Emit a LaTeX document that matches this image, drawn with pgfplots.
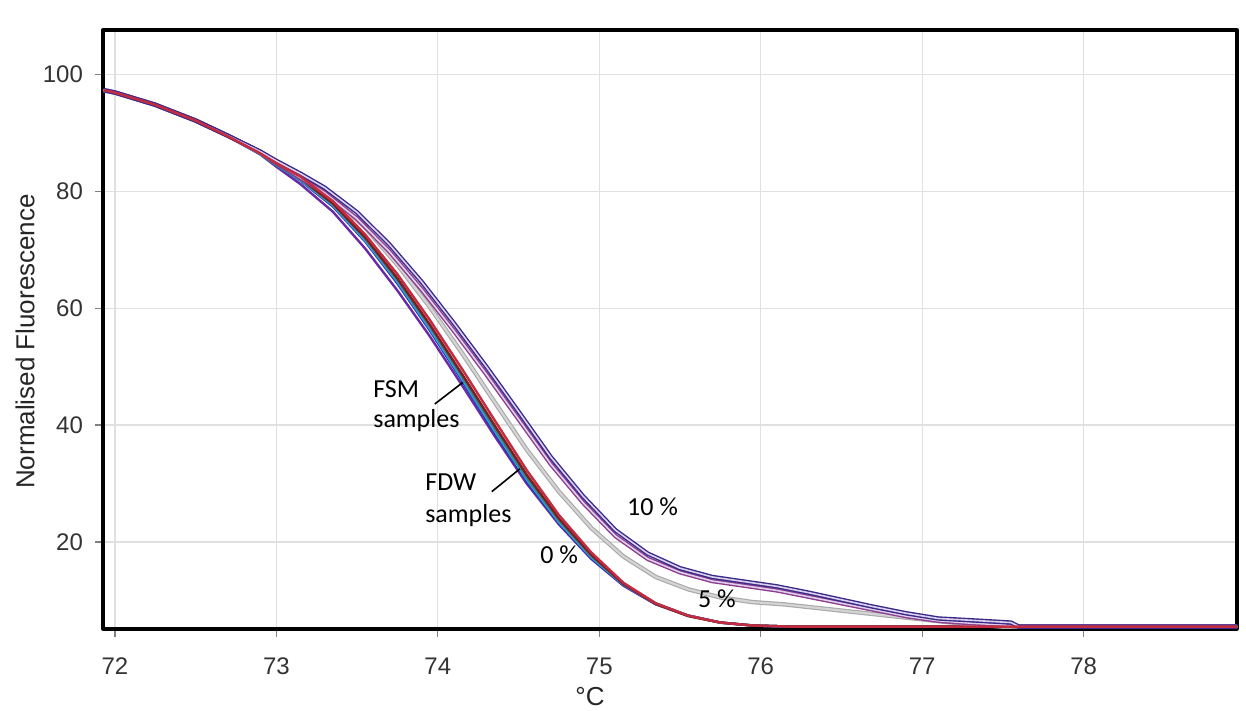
\documentclass[border=0pt]{standalone}
\usepackage{pgfplots}
\usepackage{pgfplotstable}
\pgfplotsset{compat=1.18}
\usepackage{fontspec}
\setmainfont{Liberation Sans}
\newfontfamily\carlito{Carlito}
\definecolor{fdwblue}{HTML}{2434B8}
\definecolor{fdwpurple}{HTML}{6A2AA8}
\definecolor{fdwteal}{HTML}{2A8A8A}
\definecolor{fdwcyan}{HTML}{3C9ED8}
\definecolor{fdwgreen}{HTML}{3A9A5A}
\definecolor{fsmred}{HTML}{C42A40}
\definecolor{fsmbrown}{HTML}{7A1E1E}
\definecolor{gray5}{HTML}{D4D4D4}
\definecolor{gray5edge}{HTML}{A8A8A8}
\definecolor{navy10}{HTML}{3A2A88}
\definecolor{purp10}{HTML}{8E3C8E}
\definecolor{lav10}{HTML}{DCD0EC}
\pgfplotstableread{
x y
71.93 97.3
72.0 96.9
72.25 94.8
72.5 92.1
72.7 89.5
72.9 86.7
73.0 85.0
73.15 82.8
73.35 78.9
73.55 73.8
73.75 67.4
73.95 60.2
74.15 52.3
74.35 44.0
74.55 35.8
74.75 28.6
74.95 22.4
75.15 17.5
75.35 14.0
75.55 11.9
75.75 10.5
75.95 9.7
76.15 9.3
76.35 8.7
76.55 8.1
76.75 7.5
76.95 6.9
77.15 6.3
77.35 5.8
77.5 5.5
78.95 5.5
}\fivepct
\pgfplotstableread{
x y
71.93 97.3
72.0 96.9
72.25 94.8
72.5 92.1
72.7 89.5
72.9 86.7
73.0 84.9
73.15 82.3
73.3 79.7
73.5 75.3
73.7 69.7
73.9 63.2
74.1 56.1
74.3 48.7
74.5 41.0
74.7 33.3
74.9 26.7
75.1 21.0
75.3 17.1
75.5 14.8
75.7 13.3
75.9 12.5
76.1 11.7
76.3 10.6
76.5 9.5
76.7 8.4
76.9 7.3
77.1 6.5
77.3 6.1
77.5 5.8
77.6 5.5
78.95 5.5
}\tenpctB
\pgfplotstableread{
x y
71.93 97.3
72.0 96.9
72.25 94.8
72.5 92.1
72.7 89.5
72.9 86.8
73.0 85.2
73.15 83.0
73.3 80.6
73.5 76.4
73.7 70.9
73.9 64.5
74.1 57.4
74.3 50.0
74.5 42.3
74.7 34.5
74.9 27.8
75.1 22.0
75.3 18.0
75.5 15.5
75.7 14.0
75.9 13.2
76.1 12.4
76.3 11.3
76.5 10.1
76.7 8.9
76.9 7.8
77.1 6.9
77.3 6.6
77.55 6.2
77.6 5.5
78.95 5.5
}\tenpctA
\begin{document}
\begin{tikzpicture}
\path[use as bounding box] (-51.5pt,-41pt) rectangle (571.5pt,314.5pt);
\begin{axis}[
  scale only axis, width=567pt, height=299.5pt,
  xmin=71.926, xmax=78.95, ymin=5.1, ymax=107.6,
  xtick={72,73,74,75,76,77,78}, ytick={20,40,60,80,100},
  xtick pos=bottom, ytick pos=left,
  grid=major, major grid style={draw=black!12, line width=0.6pt},
  axis line style={line width=1.6pt, black},
  tick align=outside, major tick length=4pt,
  tick style={black!50, line width=0.6pt},
  ticklabel style={font=\fontsize{12}{14}\selectfont, text=black!80},
  /pgf/number format/assume math mode=true,
  xticklabel shift=7pt, yticklabel shift=2.5pt,
  xlabel={°C}, ylabel={Normalised Fluorescence},
  every axis x label/.style={at={(axis description cs:0.4295,-0.112)}, anchor=center, font=\fontsize{13}{15}\selectfont, text=black!85},
  every axis y label/.style={at={(axis description cs:-0.0688,0.48)}, rotate=90, anchor=center, font=\fontsize{13}{15}\selectfont, text=black!85},
  line join=round,
  every axis plot/.append style={line width=1.2pt, mark=none},
]
% FDW samples (0 %)
\addplot[fdwpurple] coordinates {(71.93,97.3) (72.0,96.9) (72.25,94.8) (72.5,92.1) (72.7,89.4) (72.9,86.3) (73.0,84.2) (73.15,81.2) (73.35,76.5) (73.55,70.2) (73.75,63.0) (73.95,55.2) (74.15,46.8) (74.35,38.2) (74.55,30.0) (74.75,23.0) (74.95,17.1) (75.15,12.5) (75.35,9.3) (75.55,7.4) (75.75,6.2) (75.95,5.7) (76.2,5.5) (78.95,5.5)};
\addplot[fdwblue] coordinates {(71.93,97.3) (72.0,96.9) (72.25,94.8) (72.5,92.1) (72.7,89.4) (72.9,86.4) (73.0,84.5) (73.15,81.8) (73.35,77.4) (73.55,71.4) (73.75,64.2) (73.95,56.2) (74.15,47.6) (74.35,38.8) (74.55,30.4) (74.75,23.2) (74.95,17.2) (75.15,12.6) (75.35,9.4) (75.55,7.4) (75.75,6.2) (75.95,5.7) (76.2,5.5) (78.95,5.5)};
\addplot[fdwcyan] coordinates {(71.93,97.3) (72.0,96.9) (72.25,94.8) (72.5,92.1) (72.7,89.4) (72.9,86.4) (73.0,84.5) (73.15,81.9) (73.35,77.6) (73.55,71.6) (73.75,64.5) (73.95,56.5) (74.15,47.9) (74.35,39.1) (74.55,30.7) (74.75,23.4) (74.95,17.4) (75.15,12.7) (75.35,9.4) (75.55,7.4) (75.75,6.2) (75.95,5.7) (76.2,5.5) (78.95,5.5)};
\addplot[fdwteal] coordinates {(71.93,97.3) (72.0,96.9) (72.25,94.8) (72.5,92.1) (72.7,89.4) (72.9,86.4) (73.0,84.5) (73.15,82.0) (73.35,77.8) (73.55,71.9) (73.75,64.8) (73.95,56.9) (74.15,48.3) (74.35,39.5) (74.55,31.0) (74.75,23.7) (74.95,17.6) (75.15,12.8) (75.35,9.5) (75.55,7.4) (75.75,6.2) (75.95,5.7) (76.2,5.5) (78.95,5.5)};
% FSM samples (0 %)
\addplot[fsmbrown] coordinates {(71.93,97.3) (72.0,96.9) (72.25,94.8) (72.5,92.1) (72.7,89.4) (72.9,86.5) (73.0,84.7) (73.15,82.2) (73.35,77.9) (73.55,72.1) (73.75,65.1) (73.95,57.2) (74.15,48.7) (74.35,40.0) (74.55,31.5) (74.75,24.0) (74.95,17.8) (75.15,12.8) (75.35,9.4) (75.55,7.3) (75.75,6.2) (75.95,5.7) (76.2,5.5) (78.95,5.5)};
% 5 %
\addplot[gray5edge, line width=2.2pt] table {\fivepct};
\addplot[gray5, line width=1.1pt] table {\fivepct};
% 10 %
\addplot[purp10, line width=2.2pt] table {\tenpctB};
\addplot[lav10, line width=0.8pt] table {\tenpctB};
\addplot[navy10, line width=2.2pt] table {\tenpctA};
\addplot[lav10, line width=0.8pt] table {\tenpctA};
% FSM red on top
\addplot[fsmred] coordinates {(71.93,97.3) (72.0,96.9) (72.25,94.8) (72.5,92.1) (72.7,89.4) (72.9,86.5) (73.0,84.8) (73.15,82.5) (73.35,78.3) (73.55,72.6) (73.75,65.8) (73.95,58.0) (74.15,49.6) (74.35,40.9) (74.55,32.3) (74.75,24.6) (74.95,18.2) (75.15,13.0) (75.35,9.5) (75.55,7.4) (75.75,6.2) (75.95,5.7) (76.2,5.5) (78.95,5.5)};
% annotations
\node[anchor=base west, inner sep=0, font=\carlito\fontsize{13}{15}\selectfont] at (axis cs:73.598,44.7) {FSM};
\node[anchor=base west, inner sep=0, font=\carlito\fontsize{13}{15}\selectfont] at (axis cs:73.598,39.6) {samples};
\draw[line width=0.8pt] (axis cs:73.981,43.6) -- (axis cs:74.155,47.3);
\node[anchor=base west, inner sep=0, font=\carlito\fontsize{13}{15}\selectfont] at (axis cs:73.920,28.8) {FDW};
\node[anchor=base west, inner sep=0, font=\carlito\fontsize{13}{15}\selectfont] at (axis cs:73.920,23.4) {samples};
\draw[line width=0.8pt] (axis cs:74.334,28.6) -- (axis cs:74.508,32.5);
\node[anchor=base west, inner sep=0, font=\carlito\fontsize{13}{15}\selectfont] at (axis cs:75.170,24.5) {10 \%};
\node[anchor=base west, inner sep=0, font=\carlito\fontsize{13}{15}\selectfont] at (axis cs:74.632,16.3) {0 \%};
\node[anchor=base west, inner sep=0, font=\carlito\fontsize{13}{15}\selectfont] at (axis cs:75.610,8.7) {5 \%};
\end{axis}
\end{tikzpicture}
\end{document}
